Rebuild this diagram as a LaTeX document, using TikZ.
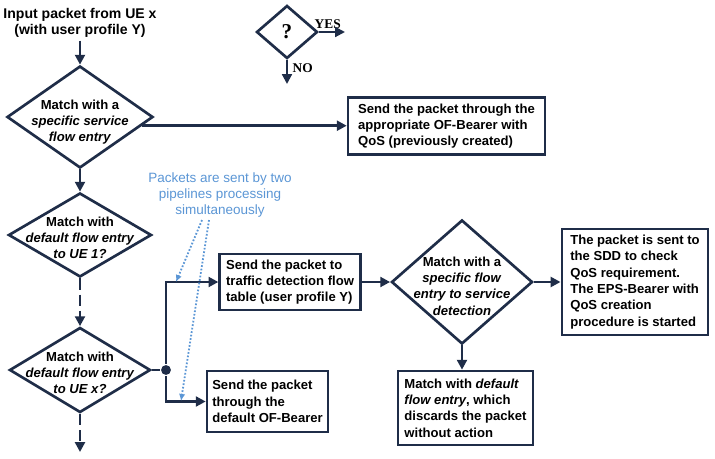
\documentclass[tikz,border=0pt]{standalone}
\usepackage{fontspec}
\setmainfont{Liberation Sans}
\newfontfamily\serifbf{Liberation Serif}
\usetikzlibrary{shapes.geometric,arrows.meta,calc}
\definecolor{navy}{RGB}{31,45,72}
\definecolor{noteblue}{RGB}{91,150,213}

\begin{document}
\begin{tikzpicture}[x=0.025cm, y=-0.025cm,
		line width=1.9pt, color=navy,
		>={Triangle[length=7pt,width=7pt]},
		every node/.style={text=black, font=\fontsize{9.3}{11.6}\selectfont\bfseries},
		cond/.style={diamond, draw, inner sep=0pt},
		condtext/.style={align=center, inner sep=0pt},
		act/.style={rectangle, draw, align=left, inner xsep=2pt, inner ysep=2pt},
		junc/.style={circle, fill, inner sep=0pt, minimum size=7pt},
		elided/.style={dash pattern=on 8pt off 3.5pt},
		notetext/.style={text=noteblue, align=center, inner sep=1pt, font=\fontsize{9.6}{11.4}\selectfont},
		hint/.style={noteblue, line width=1.3pt, dash pattern=on 1.2pt off 1.3pt, -{Latex[length=5pt,width=4.5pt]}},
		keytext/.style={font=\fontsize{9.5}{11}\selectfont\serifbf\bfseries, inner sep=1pt}
		]
	\useasboundingbox (0,0) rectangle (715,459);

	% key
	\node[cond, minimum width=1.525cm, minimum height=1.325cm] (key) at (287,32) {};
	\node[keytext, font=\fontsize{15}{15}\selectfont\serifbf\bfseries] (keyq) at (key) {?};
	\coordinate (keyyes) at (345,32);
	\coordinate (keyno) at (287,84);
	\node[keytext, anchor=south west] (yes) at (312,31) {YES};
	\node[keytext, anchor=west] (no) at (290,68) {NO};
	\draw[->, line width=1.5pt] (key.east) -- (keyyes);
	\draw[->, line width=1.5pt] (key.south) -- (keyno);

	% main column
	\node[align=center, inner sep=1pt, font=\fontsize{10}{11.8}\selectfont\bfseries] (input) at (80,23)
		{Input packet from UE x\\(with user profile Y)};
	\node[cond, minimum width=3.65cm, minimum height=2.55cm] (d1) at (80,117) {};
	\node[condtext] (t1) at ($(d1)+(0,5)$) {Match with a\\\textit{specific service}\\\textit{flow entry}};
	\node[cond, minimum width=3.575cm, minimum height=2.1cm] (d2) at (80,235) {};
	\node[condtext] (t2) at ($(d2)+(0,3)$) {Match with\\\textit{default flow entry}\\\textit{to UE 1?}};
	\node[cond, minimum width=3.525cm, minimum height=2.125cm] (d3) at (80,370) {};
	\node[condtext] (t3) at ($(d3)+(0,3)$) {Match with\\\textit{default flow entry}\\\textit{to UE x?}};
	\coordinate (cont) at (80,452);

	\node[act, minimum width=140pt, minimum height=40.5pt] (b1) at (446.5,126)
		{Send the packet through the\\appropriate OF-Bearer with\\QoS (previously created)};

	% two pipelines
	\node[junc] (jn) at (166,370) {};
	\node[act, minimum width=100pt, minimum height=39.8pt] (b2) at (290,282)
		{Send the packet to\\traffic detection flow\\table (user profile Y)};
	\node[act, minimum width=86pt, minimum height=43.4pt] (b3) at (267.5,401.5)
		{Send the packet\\through the\\default OF-Bearer};
	\node[cond, minimum width=3.525cm, minimum height=3.1cm] (d4) at (462,282) {};
	\node[condtext] (t4) at ($(d4)+(0,4)$) {Match with a\\\textit{specific flow}\\\textit{entry to service}\\\textit{detection}};
	\node[act, minimum width=104pt, minimum height=75.4pt] (b4) at (635,282)
		{The packet is sent to\\the SDD to check\\QoS requirement.\\The EPS-Bearer with\\QoS creation\\procedure is started};
	\node[act, minimum width=96pt, minimum height=52.6pt] (b5) at (465.5,408)
		{Match with \textit{default}\\\textit{flow entry}, which\\discards the packet\\without action};

	% annotation
	\node[notetext] (note) at (220,195) {Packets are sent by two\\pipelines processing\\simultaneously};
	\coordinate (hit1) at (176,282);
	\coordinate (hit2) at (181,401);

	\draw[->] (input) -- (d1.north);
	\draw[->] (d1.-8) -- (d1.-8 -| b1.west);
	\draw[->] (d1.south) -- (d2.north);
	\draw[->, elided] (d2.south) -- (d3.north);
	\draw[->, elided] (d3.south) -- (cont);
	\draw (d3.east) -- (jn);
	\draw[->] (jn) |- (b2.west);
	\draw[->] (jn) |- (b3.west);
	\draw[->] (b2) -- (d4);
	\draw[->] (d4) -- (b4);
	\draw[->] (d4.south) -- (d4.south |- b5.north);
	\draw[hint] ($(note.south)+(-18,0)$) -- (hit1);
	\draw[hint] ($(note.south)+(-11,0)$) -- (hit2);
\end{tikzpicture}
\end{document}
